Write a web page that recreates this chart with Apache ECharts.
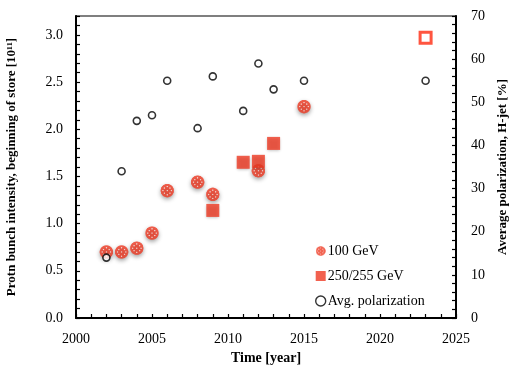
<!DOCTYPE html>
<html>
<head>
<meta charset="utf-8">
<script src="https://cdn.jsdelivr.net/npm/echarts@6/dist/echarts.min.js"></script>
<style>
  html, body { margin: 0; padding: 0; background: #fff; }
  #chart { width: 510px; height: 368px; }
</style>
</head>
<body>
<div id="chart"></div>
<script>
// Bunch intensity at 100 GeV (10^11 protons per bunch)
const years100 = [2002, 2003, 2004, 2005, 2006, 2008, 2009, 2012, 2015];
const intensity100 = [0.70, 0.70, 0.74, 0.90, 1.35, 1.44, 1.31, 1.56, 2.24];

// Bunch intensity at 250/255 GeV
const years250 = [2009, 2011, 2012, 2013];
const intensity250 = [1.14, 1.65, 1.66, 1.85];

// Planned run (open marker)
const yearsPlanned = [2023];
const intensityPlanned = [2.97];

// Average polarization from the H-jet polarimeter (%)
const yearsPol = [2002, 2003, 2004, 2005, 2006, 2008, 2009, 2011, 2012, 2013, 2015, 2023];
const polarization = [14, 34, 45.7, 47, 55, 44, 56, 48, 59, 53, 55, 55];

const zip = (xs, ys) => xs.map((x, i) => [x, ys[i]]);

const serif = '"Liberation Serif", "DejaVu Serif", serif';
const red = '#ef3a23';

// Dotted red disc used as the 100 GeV marker
function dottedDisc() {
  const s = 52;
  const c = document.createElement('canvas');
  c.width = s; c.height = s;
  const g = c.getContext('2d');
  g.fillStyle = red;
  g.beginPath(); g.arc(s / 2, s / 2, s / 2 - 1, 0, Math.PI * 2); g.fill();
  g.fillStyle = 'rgba(255,255,255,0.8)';
  const r = s * 0.05;
  const pts = [[0, 0], [0, -0.3], [0, 0.3], [-0.3, 0], [0.3, 0],
               [-0.2, -0.18], [0.2, -0.18], [-0.2, 0.18], [0.2, 0.18]];
  pts.forEach(([dx, dy]) => {
    g.beginPath(); g.arc(s / 2 + dx * s, s / 2 + dy * s, r, 0, Math.PI * 2); g.fill();
  });
  return 'image://' + c.toDataURL();
}
const dotSymbol = dottedDisc();

const chart = echarts.init(document.getElementById('chart'));

const tickStyle = { show: true, inside: true, length: 4, lineStyle: { color: '#000', width: 1.2 } };
const lineStyle = { show: true, lineStyle: { color: '#000', width: 2 } };

chart.setOption({
  animation: false,
  grid: {
    left: 76, right: 54, top: 16, bottom: 50,
    outerBoundsMode: 'none',
    show: true, borderColor: '#000', borderWidth: 1.2, backgroundColor: 'transparent'
  },
  legend: {
    orient: 'vertical',
    left: 310, top: 239,
    itemGap: 11,
    itemWidth: 10, itemHeight: 10,
    textStyle: { fontFamily: serif, fontSize: 14, color: '#000', padding: [0, 0, 0, -3] },
    data: [
      { name: '100 GeV', icon: dotSymbol, itemStyle: { shadowBlur: 0, shadowOffsetY: 0 } },
      { name: '250/255 GeV', icon: 'rect', itemStyle: { color: red, shadowBlur: 0, shadowOffsetY: 0 } },
      { name: 'Avg. polarization', icon: 'circle', itemStyle: { borderWidth: 1.4 } }
    ]
  },
  xAxis: {
    type: 'value',
    min: 2000, max: 2025, interval: 1,
    name: 'Time [year]',
    nameLocation: 'middle', nameGap: 31,
    nameTextStyle: { fontFamily: serif, fontWeight: 'bold', fontSize: 14, color: '#000' },
    axisLine: lineStyle,
    axisTick: tickStyle,
    splitLine: { show: false },
    axisLabel: {
      fontFamily: serif, fontSize: 14, color: '#000', margin: 14,
      formatter: v => (v % 5 === 0 ? String(v) : '')
    }
  },
  yAxis: [
    {
      type: 'value',
      min: 0, max: 3.2, interval: 0.1,
      name: 'Protn bunch intensity, beginning of store [10¹¹]',
      nameLocation: 'middle', nameGap: 58, nameRotate: 90,
      nameTextStyle: { fontFamily: serif, fontWeight: 'bold', fontSize: 13, color: '#000' },
      axisLine: lineStyle,
      axisTick: tickStyle,
      splitLine: { show: false },
      axisLabel: {
        fontFamily: serif, fontSize: 14, color: '#000', margin: 13,
        formatter: v => {
          const r = Math.round(v * 10);
          return r % 5 === 0 ? (r / 10).toFixed(1) : '';
        }
      }
    },
    {
      type: 'value',
      min: 0, max: 70, interval: 2,
      name: 'Average polarization, H-jet [%]',
      nameLocation: 'middle', nameGap: 36, nameRotate: 90,
      nameTextStyle: { fontFamily: serif, fontWeight: 'bold', fontSize: 13, color: '#000' },
      axisLine: lineStyle,
      axisTick: tickStyle,
      splitLine: { show: false },
      axisLabel: {
        fontFamily: serif, fontSize: 14, color: '#000', margin: 15,
        formatter: v => (v % 10 === 0 ? String(v) : '')
      }
    }
  ],
  series: [
    {
      name: 'Avg. polarization',
      type: 'scatter',
      yAxisIndex: 1,
      symbol: 'circle',
      symbolSize: 7,
      z: 3,
      itemStyle: { color: '#fff', borderColor: '#000', borderWidth: 1.6 },
      data: zip(yearsPol, polarization)
    },
    {
      name: '100 GeV',
      type: 'scatter',
      symbol: dotSymbol,
      symbolSize: 14,
      z: 2,
      itemStyle: {
        color: red,
        shadowBlur: 4, shadowColor: 'rgba(0,0,0,0.45)', shadowOffsetY: 2
      },
      data: zip(years100, intensity100)
    },
    {
      name: '250/255 GeV',
      type: 'scatter',
      symbol: 'rect',
      symbolSize: 13,
      z: 2,
      itemStyle: {
        color: red,
        shadowBlur: 3, shadowColor: 'rgba(0,0,0,0.35)', shadowOffsetY: 1
      },
      data: zip(years250, intensity250)
    },
    {
      name: 'Planned',
      type: 'scatter',
      symbol: 'rect',
      symbolSize: 11,
      z: 2,
      itemStyle: { color: '#fff', borderColor: '#ff2a10', borderWidth: 3 },
      data: zip(yearsPlanned, intensityPlanned)
    }
  ]
});
</script>
</body>
</html>
